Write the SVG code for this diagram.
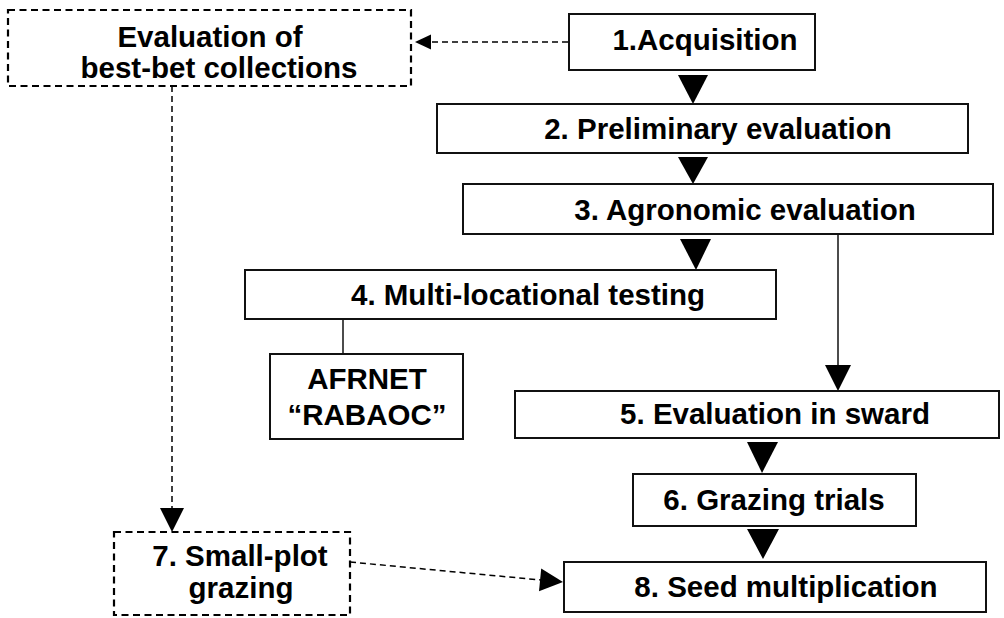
<svg xmlns="http://www.w3.org/2000/svg" width="1004" height="618" viewBox="0 0 1004 618">
<style>
.box{fill:#fff;stroke:#111;stroke-width:2}
.dbox{fill:#fff;stroke:#000;stroke-width:2.2;stroke-dasharray:7 4.5}
.t{font-family:"Liberation Sans",Arial,sans-serif;font-weight:bold;font-size:29.5px;fill:#000;text-anchor:middle}
.dl{fill:none;stroke:#000;stroke-width:1.5;stroke-dasharray:6 4}
.sl{fill:none;stroke:#111;stroke-width:1.5}
.ah{fill:#000}
</style>
<rect width="1004" height="618" fill="#fff"/>
<g id="connectors">
<line class="dl" x1="568" y1="42" x2="430" y2="42"/>
<polygon class="ah" points="431,34.5 431,49.5 415,42"/>
<line class="dl" x1="172" y1="86" x2="172" y2="508"/>
<polygon class="ah" points="160,508 184,508 172,532"/>
<line class="dl" x1="350" y1="562" x2="541" y2="580"/>
<polygon class="ah" points="541.2,568.4 539,591.3 563,582"/>
<polygon class="ah" points="678,75 708,75 693,104"/>
<polygon class="ah" points="678,157 708,157 693,184"/>
<polygon class="ah" points="680,239 711,239 696,270"/>
<line class="sl" x1="838" y1="234" x2="838" y2="366"/>
<polygon class="ah" points="825,365 851,365 838,391"/>
<line class="sl" x1="343" y1="319" x2="343" y2="354"/>
<polygon class="ah" points="747,442 778,442 762,473"/>
<polygon class="ah" points="747,529 779,529 763,559"/>
</g>
<g id="node-best-bet">
<rect class="dbox" x="8" y="10" width="403" height="76"/>
<text class="t" x="210" y="47">Evaluation of</text>
<text class="t" x="219" y="78">best-bet collections</text>
</g>
<g id="node-1">
<rect class="box" x="569" y="14" width="246" height="56"/>
<text class="t" x="705" y="50">1.Acquisition</text>
</g>
<g id="node-2">
<rect class="box" x="437" y="104" width="531" height="49"/>
<text class="t" x="718" y="139">2. Preliminary evaluation</text>
</g>
<g id="node-3">
<rect class="box" x="463" y="184" width="530" height="50"/>
<text class="t" x="745" y="220">3. Agronomic evaluation</text>
</g>
<g id="node-4">
<rect class="box" x="245" y="270" width="531" height="49"/>
<text class="t" x="528" y="305">4. Multi-locational testing</text>
</g>
<g id="node-afrnet">
<rect class="box" x="270" y="354" width="193" height="85"/>
<text class="t" x="367" y="389">AFRNET</text>
<text class="t" x="367" y="425">“RABAOC”</text>
</g>
<g id="node-5">
<rect class="box" x="515" y="391" width="484" height="47"/>
<text class="t" x="775" y="424">5. Evaluation in sward</text>
</g>
<g id="node-6">
<rect class="box" x="633" y="474" width="283" height="52"/>
<text class="t" x="774" y="510">6. Grazing trials</text>
</g>
<g id="node-7">
<rect class="dbox" x="114" y="532" width="236" height="83"/>
<text class="t" x="240" y="566">7. Small-plot</text>
<text class="t" x="241" y="598">grazing</text>
</g>
<g id="node-8">
<rect class="box" x="564" y="562" width="422" height="50"/>
<text class="t" x="786" y="597">8. Seed multiplication</text>
</g>
</svg>
